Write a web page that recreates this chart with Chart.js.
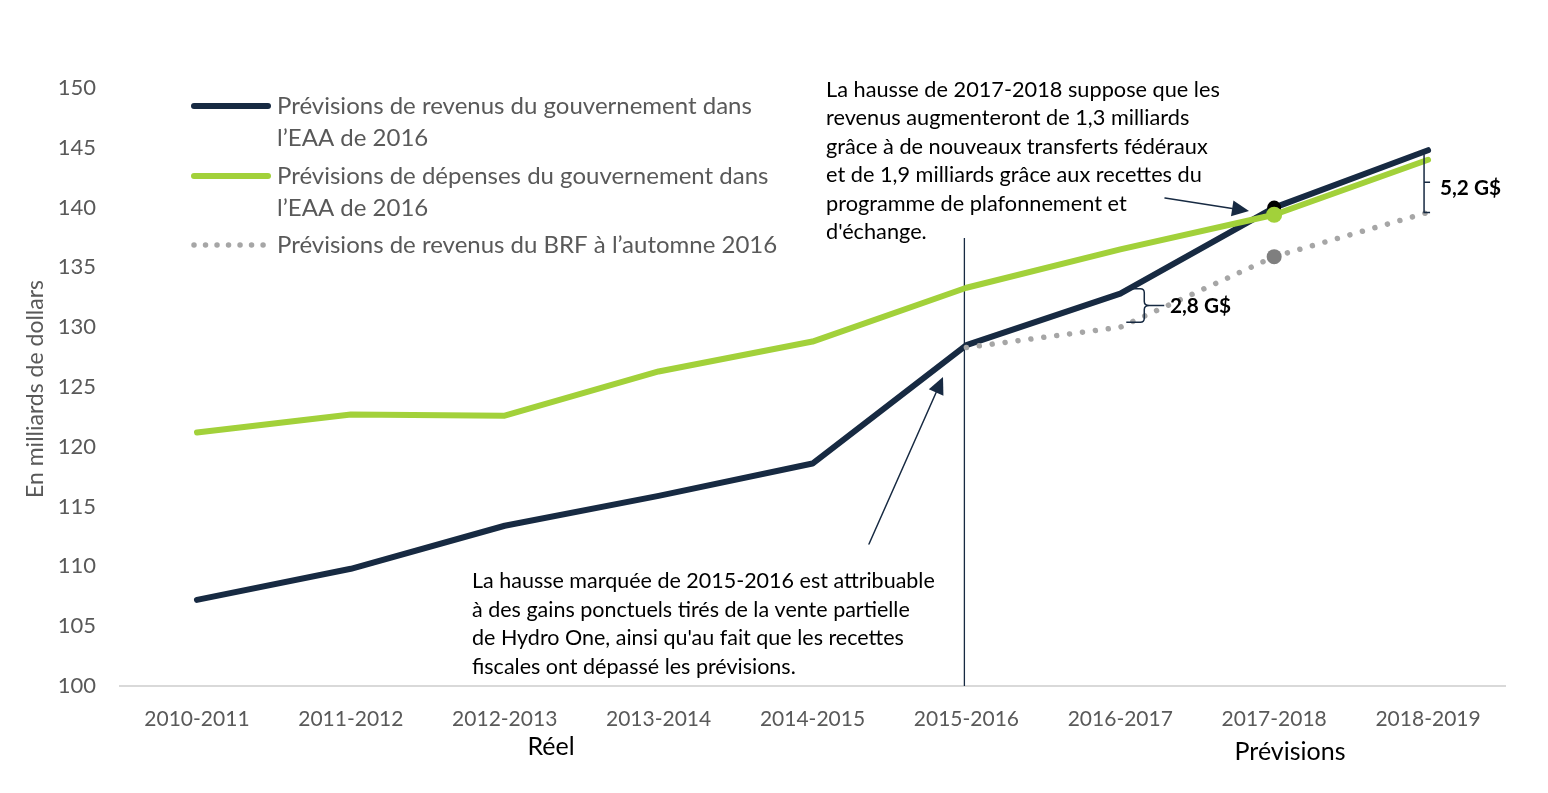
<!DOCTYPE html>
<html><head><meta charset="utf-8">
<script src="https://cdn.jsdelivr.net/npm/chart.js@4.4.1/dist/chart.umd.min.js"></script>
<style>html,body{margin:0;padding:0;background:#fff;}#wrap{width:1548px;height:793px;position:relative;}</style>
</head><body><div id="wrap"><canvas id="c" width="1548" height="793"></canvas></div>
<script>
// ---- data ----
const categories = ['2010-2011','2011-2012','2012-2013','2013-2014','2014-2015','2015-2016','2016-2017','2017-2018','2018-2019'];
const revenueEAA  = [107.2, 109.8, 113.4, 115.9, 118.6, 128.5, 132.8, 140.0, 144.8];
const spendingEAA = [121.2, 122.7, 122.6, 126.3, 128.8, 133.3, 136.5, 139.4, 144.0];
const revenueBRF  = [null, null, null, null, null, 128.3, 130.0, 135.9, 139.6];
const yTicks = [100, 105, 110, 115, 120, 125, 130, 135, 140, 145, 150];
const seriesLabels = [
  ['Prévisions de revenus du gouvernement dans', 'l’EAA de 2016'],
  ['Prévisions de dépenses du gouvernement dans', 'l’EAA de 2016'],
  ['Prévisions de revenus du BRF à l’automne 2016']
];
const periodLabels = ['Réel', 'Prévisions'];
const gapLabels = ['2,8 G$', '5,2 G$'];
const yTitle = 'En milliards de dollars';
const note2017 = ['La hausse de 2017-2018 suppose que les','revenus augmenteront de 1,3 milliards','grâce à de nouveaux transferts fédéraux','et de 1,9 milliards grâce aux recettes du','programme de plafonnement et','d\'échange.'];
const note2015 = ['La hausse marquée de 2015-2016 est attribuable','à des gains ponctuels tirés de la vente partielle','de Hydro One, ainsi qu\'au fait que les recettes','fiscales ont dépassé les prévisions.'];
const highlightIndex = 7; // 2017-2018
const splitIndex = 5;     // 2015-2016

// ---- styling ----
const FAM = "Lato, 'Open Sans', sans-serif";
const NAVY = '#172a42', GREEN = '#a2d13a', GREYDOT = '#a6a6a6', GREYPT = '#7f7f7f', TXT = '#595959';
const mc = document.createElement('canvas').getContext('2d');
function fit(text, w, weight) { mc.font = (weight||'normal') + ' 100px ' + FAM; return 100 * w / mc.measureText(text).width; }
const fsLegend = Math.min(24, fit(seriesLabels[0][0], 484));
const fsYTick = Math.min(22, fit('150', 39));
const fsXTick = Math.min(21, fit('2010-2011', 112));
const fsYTitle = Math.min(23, fit(yTitle, 255));
const fsNote1 = Math.min(22, fit(note2017[2], 382));
const fsNote2 = Math.min(22, fit(note2015[0], 463));
const fsPeriod = Math.min(25, fit(periodLabels[1], 119));
const fsGap = Math.min(21, fit(gapLabels[0], 61, 'bold'));

const pointR = (r) => categories.map((_, i) => i === highlightIndex ? r : 0);

function arrow(ctx, x1, y1, x2, y2) {
  const a = Math.atan2(y2 - y1, x2 - x1), L = 17, W = 8;
  const bx = x2 - L * Math.cos(a), by = y2 - L * Math.sin(a);
  ctx.beginPath(); ctx.moveTo(x1, y1); ctx.lineTo(bx, by); ctx.stroke();
  ctx.beginPath(); ctx.moveTo(x2, y2);
  ctx.lineTo(bx + W * Math.sin(a), by - W * Math.cos(a));
  ctx.lineTo(bx - W * Math.sin(a), by + W * Math.cos(a));
  ctx.closePath(); ctx.fill();
}

const decor = {
  id: 'decor',
  beforeDatasetsDraw(chart) {
    const ctx = chart.ctx, x = chart.scales.x;
    ctx.save();
    ctx.strokeStyle = NAVY; ctx.lineWidth = 1.3;
    const vx = x.getPixelForValue(splitIndex) - 2;
    ctx.beginPath(); ctx.moveTo(vx, 238); ctx.lineTo(vx, chart.chartArea.bottom); ctx.stroke();
    ctx.restore();
  },
  afterDraw(chart) {
    const ctx = chart.ctx, x = chart.scales.x, y = chart.scales.y;
    ctx.save();
    // legend
    ctx.textBaseline = 'middle'; ctx.textAlign = 'left';
    ctx.font = fsLegend + 'px ' + FAM; ctx.fillStyle = TXT;
    const rows = [106, 176, 245];
    const cols = [NAVY, GREEN, GREYDOT];
    rows.forEach((ry, k) => {
      ctx.lineCap = 'round';
      ctx.strokeStyle = cols[k]; ctx.lineWidth = 6;
      if (k === 2) { ctx.setLineDash([0.01, 11.5]); ctx.lineWidth = 5.5; }
      else ctx.setLineDash([]);
      ctx.beginPath(); ctx.moveTo(194, ry); ctx.lineTo(268, ry); ctx.stroke();
      ctx.setLineDash([]);
      seriesLabels[k].forEach((t, j) => ctx.fillText(t, 277, ry + j * 32));
    });
    // y title
    ctx.save();
    ctx.translate(36, 389); ctx.rotate(-Math.PI / 2);
    ctx.textAlign = 'center'; ctx.font = fsYTitle + 'px ' + FAM; ctx.fillStyle = TXT;
    ctx.fillText(yTitle, 0, 0);
    ctx.restore();
    // period labels
    ctx.fillStyle = '#000'; ctx.textAlign = 'center'; ctx.font = fsPeriod + 'px ' + FAM;
    ctx.fillText(periodLabels[0], 551, 747);
    ctx.fillText(periodLabels[1], 1290, 752);
    // notes
    ctx.textAlign = 'left'; ctx.font = fsNote1 + 'px ' + FAM;
    note2017.forEach((t, j) => ctx.fillText(t, 826, 90 + j * 28.4));
    ctx.font = fsNote2 + 'px ' + FAM;
    note2015.forEach((t, j) => ctx.fillText(t, 472, 581 + j * 28.7));
    // arrows
    ctx.strokeStyle = NAVY; ctx.fillStyle = NAVY; ctx.lineWidth = 1.5;
    arrow(ctx, 869, 544, 943, 377);
    arrow(ctx, 1165, 198, 1249, 211);
    // braces
    ctx.lineWidth = 1.5; ctx.lineCap = 'butt';
    const b1x = x.getPixelForValue(6) + 24;
    const b1t = y.getPixelForValue(revenueEAA[6]) - 5, b1b = y.getPixelForValue(revenueBRF[6]) - 5;
    const b1m = (b1t + b1b) / 2;
    ctx.beginPath();
    ctx.moveTo(b1x - 18, b1t); ctx.lineTo(b1x - 4, b1t); ctx.quadraticCurveTo(b1x, b1t, b1x, b1t + 4);
    ctx.lineTo(b1x, b1m - 4); ctx.quadraticCurveTo(b1x, b1m, b1x + 5, b1m); ctx.lineTo(b1x + 20, b1m);
    ctx.moveTo(b1x + 5, b1m); ctx.quadraticCurveTo(b1x, b1m, b1x, b1m + 4);
    ctx.lineTo(b1x, b1b - 4); ctx.quadraticCurveTo(b1x, b1b, b1x - 4, b1b); ctx.lineTo(b1x - 18, b1b);
    ctx.stroke();
    const b2x = x.getPixelForValue(8) - 4;
    const b2t = y.getPixelForValue(revenueEAA[8]) + 4, b2b = y.getPixelForValue(revenueBRF[8]);
    const b2m = (b2t + b2b) / 2 - 1;
    ctx.beginPath();
    ctx.moveTo(b2x, b2t); ctx.lineTo(b2x, b2b); ctx.lineTo(b2x + 6, b2b);
    ctx.moveTo(b2x, b2m); ctx.lineTo(b2x + 6, b2m);
    ctx.stroke();
    // gap labels
    ctx.fillStyle = '#000'; ctx.font = 'bold ' + fsGap + 'px ' + FAM; ctx.textAlign = 'left';
    ctx.fillText(gapLabels[0], 1170, b1m + 1);
    ctx.fillText(gapLabels[1], 1440, 188);
    ctx.restore();
  }
};

new Chart(document.getElementById('c'), {
  type: 'line',
  data: {
    labels: categories,
    datasets: [
      { label: seriesLabels[0].join(' '), data: revenueEAA, borderColor: NAVY, borderWidth: 6, tension: 0,
        pointRadius: pointR(7), pointBackgroundColor: '#000', pointBorderWidth: 0, borderCapStyle: 'round', borderJoinStyle: 'round', order: 3 },
      { label: seriesLabels[2].join(' '), data: revenueBRF, borderColor: GREYDOT, borderWidth: 5.5, borderDash: [0.01, 13],
        borderCapStyle: 'round', tension: 0, spanGaps: false,
        pointRadius: pointR(7.5), pointBackgroundColor: GREYPT, pointBorderWidth: 0, order: 2 },
      { label: seriesLabels[1].join(' '), data: spendingEAA, borderColor: GREEN, borderWidth: 6, tension: 0,
        pointRadius: pointR(8), pointBackgroundColor: GREEN, pointBorderWidth: 0, borderCapStyle: 'round', borderJoinStyle: 'round', order: 1 }
    ]
  },
  options: {
    responsive: false, animation: false, devicePixelRatio: 1,
    layout: { padding: { left: 0, right: 43, top: 88, bottom: 0 } },
    plugins: { legend: { display: false }, tooltip: { enabled: false } },
    scales: {
      x: { type: 'category', offset: true,
        grid: { display: false, drawTicks: false },
        border: { display: true, color: '#d9d9d9', width: 2 },
        ticks: { color: TXT, font: { family: FAM, size: fsXTick }, padding: 21, maxRotation: 0, autoSkip: false },
        afterFit(s) { s.height = 107; } },
      y: { min: yTicks[0], max: yTicks[yTicks.length - 1],
        afterBuildTicks(s) { s.ticks = yTicks.map(v => ({ value: v })); },
        grid: { display: false, drawTicks: false }, border: { display: false },
        ticks: { color: TXT, font: { family: FAM, size: fsYTick }, padding: 24 },
        afterFit(s) { s.width = 120; } }
    }
  },
  plugins: [decor]
});
</script></body></html>
